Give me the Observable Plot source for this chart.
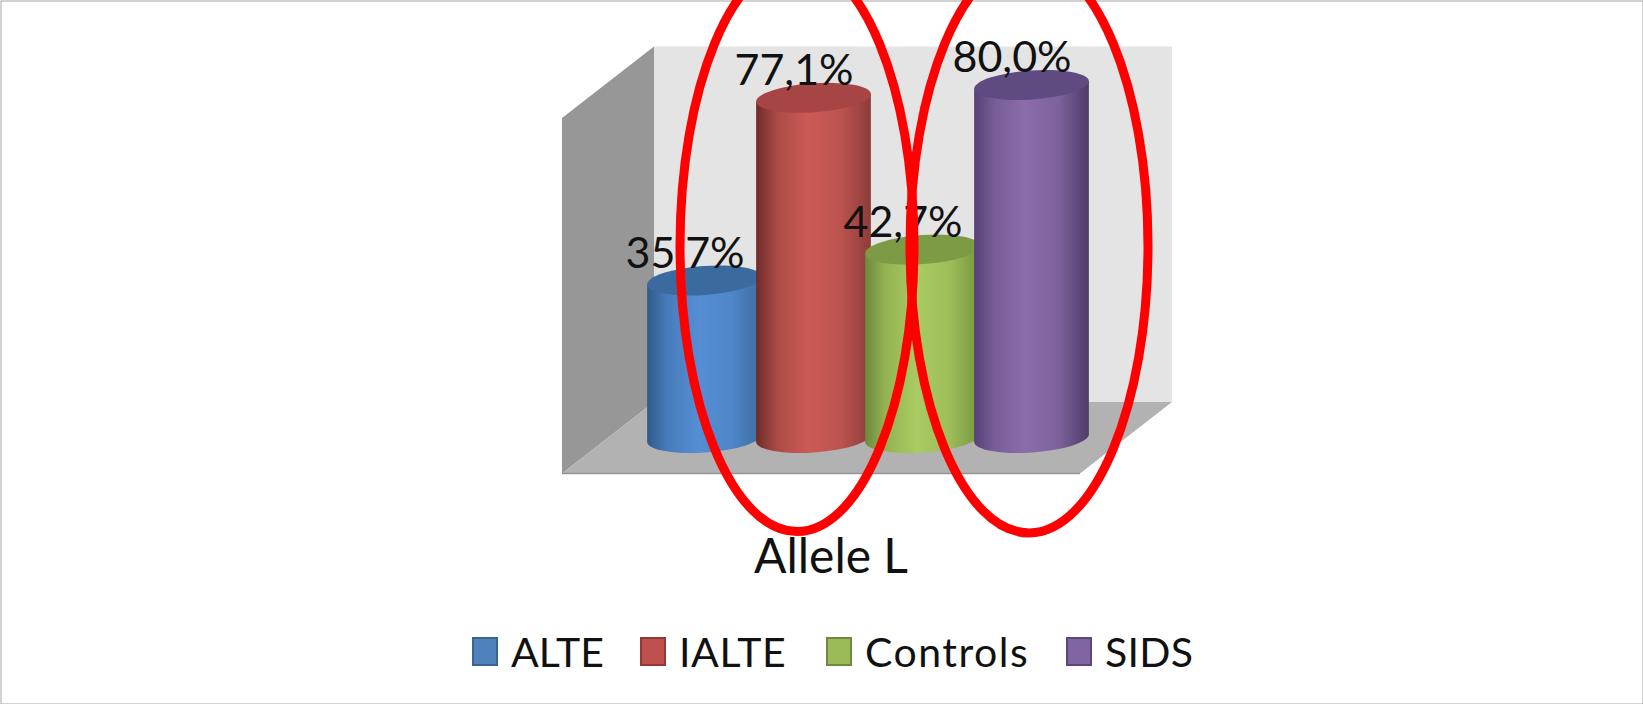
<!DOCTYPE html>
<html>
<head>
<meta charset="utf-8">
<script src="https://cdn.jsdelivr.net/npm/d3@7"></script>
<script src="https://cdn.jsdelivr.net/npm/@observablehq/plot@0.6"></script>
<style>
  html, body { margin: 0; padding: 0; background: #fff; overflow: hidden; }
  #chart { position: relative; width: 1643px; height: 704px; font-family: Lato, sans-serif; }
  #chart svg { display: block; }
  .key { position: absolute; top: 633px; height: 36px; display: flex; align-items: center; font-size: 41px; color: #111; line-height: 1; }
  .key i { display: block; width: 26px; height: 29px; margin-right: 13px; box-sizing: border-box; border: 2px solid; }
</style>
</head>
<body>
<div id="chart"></div>
<script>
// Frequency of allele L in each group
const groups = ["ALTE", "IALTE", "Controls", "SIDS"];
const percentages = [35.7, 77.1, 42.7, 80.0];
const highlighted = ["IALTE", "SIDS"];
const categoryLabel = "Allele L";
const axisMax = 80;

// Cylinder shading, one entry per group
const edgeLeft = ["#2f5b8a", "#6d2b29", "#6c8a3b", "#564176"];
const centre = ["#558ed5", "#cc5a56", "#aaca62", "#8b6dab"];
const edgeRight = ["#3d6c9f", "#8c3c39", "#75963e", "#4f3b69"];
const capFill = ["#3b6a9e", "#a64543", "#7d9a45", "#5f4b82"];
const swatchFill = ["#4f81bd", "#c0504d", "#9bbb59", "#8064a2"];
const swatchEdge = ["#3a6490", "#8f3a38", "#71893f", "#5c4776"];

// Legend layout
const keyLeft = [472, 640, 826, 1066];
const keyTracking = [0, 0.6, 1.5, 0.3];

const table = groups.map((group, i) => ({group, value: percentages[i]}));
const label = (v) => v.toFixed(1).replace(".", ",") + "%";

const depth = {wallX: 92, backY: 36, frontY: 35.5, headroom: 2.5};
const cap = {rx: 57.5, ry: 14.5, tilt: 4};

// Ellipse symbol for Plot.dot: the dot's r is the horizontal radius.
const ellipse = (aspect) => ({
  draw(ctx, size) {
    const rx = Math.sqrt(size / Math.PI), ry = rx * aspect, k = 0.5523;
    ctx.moveTo(rx, 0);
    ctx.bezierCurveTo(rx, k * ry, k * rx, ry, 0, ry);
    ctx.bezierCurveTo(-k * rx, ry, -rx, k * ry, -rx, 0);
    ctx.bezierCurveTo(-rx, -k * ry, -k * rx, -ry, 0, -ry);
    ctx.bezierCurveTo(k * rx, -ry, rx, -k * ry, rx, 0);
    ctx.closePath();
  }
});

// Horizontal gradients that give the cylinder sides their roundness.
function gradients() {
  const defs = d3.create("svg:defs");
  groups.forEach((_, i) => {
    const g = defs.append("linearGradient").attr("id", `side-${i}`);
    const stop = (offset, color) => g.append("stop").attr("offset", offset).attr("stop-color", color);
    stop("0%", edgeLeft[i]);
    stop("18%", d3.interpolateRgb(edgeLeft[i], centre[i])(0.65));
    stop("45%", centre[i]);
    stop("74%", d3.interpolateRgb(edgeRight[i], centre[i])(0.75));
    stop("100%", edgeRight[i]);
  });
  return defs.node();
}

// The box behind the bars: left wall, back wall and floor, sized by the y scale.
function walls(index, {x, y}) {
  const left = x("ALTE") - 88, right = x("SIDS") + x.bandwidth() - 6;
  const backLeft = left + depth.wallX, backRight = right + depth.wallX;
  const topBack = y(axisMax) - depth.backY - depth.headroom, topFront = y(axisMax) + depth.frontY - depth.headroom;
  const baseBack = y(0) - depth.backY, baseFront = y(0) + depth.frontY;
  const g = d3.create("svg:g");
  const poly = (points, fill) => g.append("polygon").attr("points", points.join(" ")).attr("fill", fill);
  poly([[backLeft, topBack], [backRight, topBack], [backRight, baseBack], [backLeft, baseBack]], "#e4e4e4");
  poly([[left, topFront], [backLeft, topBack], [backLeft, baseBack], [left, baseFront]], "#979797");
  poly([[left, baseFront], [right, baseFront], [backRight, baseBack], [backLeft, baseBack]], "#b2b2b2");
  g.append("line").attr("x1", left).attr("x2", right).attr("y1", baseFront).attr("y2", baseFront)
    .attr("stroke", "#949494").attr("stroke-width", 1.5);
  return g.node();
}

// Turns each bar of Plot.barY into a slightly tilted cylinder.
function cylinders(index, scales) {
  const g = d3.create("svg:g");
  const {rx, ry, tilt} = cap;
  const rad = tilt * Math.PI / 180;
  const a = rx * Math.cos(rad), b = rx * Math.sin(rad);
  for (const i of index) {
    const cx = scales.x(groups[i]) + scales.x.bandwidth() / 2;
    const top = scales.y(percentages[i]), base = scales.y(0);
    g.append("path")
      .attr("d", `M${cx - a},${top + b}L${cx - a},${base + b}A${rx},${ry} ${-tilt} 0 0 ${cx + a},${base - b}L${cx + a},${top - b}Z`)
      .attr("fill", `url(#side-${i})`);
    g.append("ellipse")
      .attr("rx", rx).attr("ry", ry)
      .attr("transform", `translate(${cx},${top}) rotate(${-tilt})`)
      .attr("fill", capFill[i]);
  }
  return g.node();
}

const plot = Plot.plot({
  width: 1643,
  height: 704,
  margin: 0,
  style: {background: "#fff", fontFamily: "Lato, sans-serif", overflow: "hidden"},
  x: {type: "band", domain: groups, range: [648, 1087], padding: 0, axis: null},
  y: {domain: [0, axisMax], range: [438, 85], axis: null},
  marks: [
    gradients,
    Plot.frame({stroke: "#a6a6a6", strokeWidth: 1, inset: 0.5}),
    walls,
    Plot.barY(table, {x: "group", y: "value", render: cylinders}),
    Plot.text(table, {
      x: "group", y: "value", text: (d) => label(d.value),
      dx: -20, dy: -27, fontSize: 43, fill: "#111", textAnchor: "middle"
    }),
    Plot.dot([highlighted[0]], {
      x: (d) => d, y: () => 43.6, dx: -17, r: 117, symbol: ellipse(2.44),
      fill: "none", stroke: "#ff0000", strokeWidth: 9
    }),
    Plot.dot([highlighted[1]], {
      x: (d) => d, y: () => 43.6, dx: -3, r: 119, symbol: ellipse(2.41),
      fill: "none", stroke: "#ff0000", strokeWidth: 9
    }),
    Plot.text([categoryLabel], {
      frameAnchor: "top", dx: 9, dy: 538, fontSize: 48, fill: "#111"
    })
  ]
});

const chart = document.getElementById("chart");
chart.append(plot);

// Legend row under the chart
groups.forEach((group, i) => {
  const key = document.createElement("div");
  key.className = "key";
  key.style.left = keyLeft[i] + "px";
  key.style.letterSpacing = keyTracking[i] + "px";
  const swatch = document.createElement("i");
  swatch.style.background = swatchFill[i];
  swatch.style.borderColor = swatchEdge[i];
  key.append(swatch, group);
  chart.append(key);
});
</script>
</body>
</html>
